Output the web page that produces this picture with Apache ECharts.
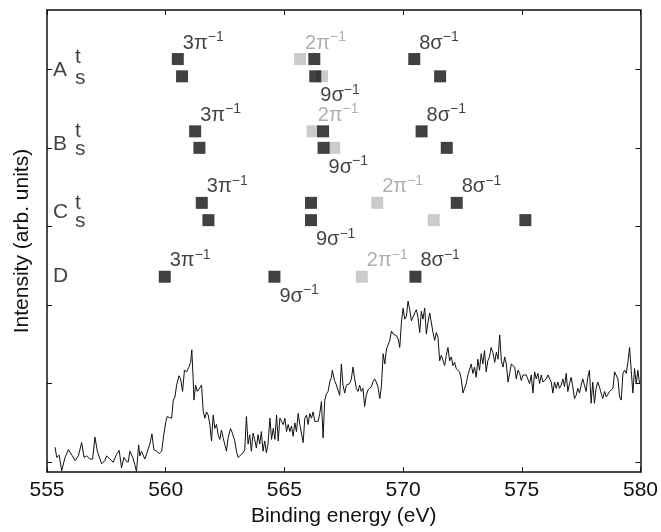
<!DOCTYPE html>
<html><head><meta charset="utf-8">
<script src="https://cdn.jsdelivr.net/npm/echarts@6/dist/echarts.min.js"></script>
<style>html,body{margin:0;padding:0;background:#fff}#c{width:661px;height:532px}</style>
</head><body><div id="c"></div>
<script>
const xTicks = [555, 560, 565, 570, 575, 580];
const yTickValues = [0, 1, 2, 3, 4, 5];

const energy = [
555.34,555.41,555.51,555.62,555.76,555.90,556.07,556.18,556.32,556.46,
556.56,556.67,556.81,556.92,557.02,557.12,557.20,557.30,557.44,557.51,
557.65,557.79,557.93,558.04,558.14,558.24,558.32,558.42,558.49,558.61,
558.70,558.77,558.86,558.91,558.98,559.12,559.19,559.33,559.42,559.50,
559.61,559.73,559.83,559.92,560.01,560.06,560.15,560.25,560.32,560.39,
560.46,560.56,560.63,560.71,560.79,560.88,560.96,561.05,561.10,561.16,
561.19,561.26,561.33,561.41,561.51,561.58,561.65,561.72,561.79,561.86,
561.93,562.00,562.07,562.14,562.21,562.28,562.35,562.42,562.49,562.56,
562.63,562.73,562.81,562.91,562.98,563.05,563.12,563.26,563.33,563.40,
563.47,563.54,563.61,563.68,563.75,563.82,563.89,563.96,564.03,564.10,
564.17,564.24,564.31,564.39,564.46,564.53,564.60,564.67,564.74,564.81,
564.88,564.95,565.02,565.09,565.16,565.23,565.30,565.37,565.44,565.51,
565.58,565.65,565.72,565.79,565.86,565.93,566.00,566.07,566.14,566.21,
566.28,566.35,566.42,566.49,566.56,566.63,566.70,566.77,566.84,566.91,
566.98,567.02,567.11,567.18,
567.33,567.40,567.47,567.54,567.61,567.68,567.75,567.82,567.89,567.96,
568.03,568.10,568.17,568.24,568.31,568.38,568.45,568.52,568.59,568.66,
568.73,568.80,568.87,568.94,569.02,569.09,569.16,569.23,569.30,569.37,
569.44,569.51,569.58,569.65,569.72,569.79,569.86,569.93,570.00,570.07,
570.14,570.21,570.28,570.35,570.42,570.49,570.56,570.63,570.70,570.77,
570.84,570.91,570.98,571.05,571.12,571.19,571.26,571.33,571.40,571.47,
571.54,571.61,571.68,571.75,571.82,571.89,571.96,572.03,572.10,572.17,
572.24,572.31,572.38,572.45,572.52,572.59,572.66,572.73,572.80,572.87,
572.94,573.01,573.08,573.15,573.22,573.29,573.36,573.43,573.50,573.57,
573.64,573.71,573.78,573.86,573.93,574.00,574.07,574.14,574.21,574.28,
574.35,574.42,574.49,574.56,574.63,574.70,574.77,574.84,574.91,574.98,
575.05,575.12,575.19,575.26,575.33,575.40,575.47,575.54,575.61,575.68,
575.75,575.82,575.89,575.96,576.03,576.10,576.17,576.24,576.31,576.38,
576.45,576.52,576.59,576.66,576.73,576.80,576.87,576.94,577.01,577.08,
577.15,577.22,577.29,577.36,577.43,577.50,577.57,577.64,577.71,577.78,
577.85,577.92,577.99,578.06,578.13,578.20,578.27,578.34,578.41,578.49,
578.56,578.63,578.70,578.77,578.84,578.91,578.98,579.05,579.12,579.19,
579.26,579.33,579.40,579.47,579.54,579.61,579.68,579.75,579.82,579.89,
579.96
];

const intensity = [
0.19,0.06,0.09,-0.11,0.06,0.16,0.08,0.02,0.08,0.25,
0.06,0.08,0.04,0.04,0.32,0.14,0.12,-0.02,0.02,0.08,
0.04,0.00,0.10,0.15,-0.07,0.06,0.02,0.00,0.14,0.06,
-0.03,-0.12,0.22,0.08,0.14,0.04,0.10,0.23,0.36,0.16,
0.14,0.11,0.14,0.35,0.52,0.58,0.57,0.56,0.79,0.83,
0.98,1.10,1.06,0.90,1.17,1.15,1.20,1.27,1.43,1.04,
0.79,0.98,0.90,0.92,0.98,0.65,0.56,0.64,0.60,0.48,
0.27,0.60,0.43,0.48,0.35,0.29,0.41,0.31,0.33,0.14,
0.31,0.43,0.37,0.27,0.14,0.06,0.08,0.12,0.16,0.58,
0.23,0.35,0.14,0.37,0.29,0.18,0.35,0.23,0.39,0.14,
0.27,0.12,0.23,0.56,0.29,0.43,0.29,0.60,0.27,0.56,
0.52,0.48,0.56,0.39,0.48,0.39,0.46,0.33,0.50,0.39,
0.62,0.48,0.50,0.25,0.56,0.60,0.48,0.62,0.56,0.64,
0.52,0.50,0.52,0.62,0.77,0.31,0.79,0.87,0.90,1.02,
1.08,1.17,1.04,0.99,
0.85,1.25,0.98,0.88,0.98,0.98,1.00,1.06,1.21,1.06,
0.94,0.90,0.98,0.90,0.94,0.71,0.85,0.92,0.92,0.96,
1.02,1.06,1.02,0.96,0.81,0.98,1.38,1.25,1.44,1.46,
1.55,1.67,1.63,1.61,1.61,1.57,1.46,1.78,1.96,1.82,
1.86,2.05,1.94,1.80,1.78,1.90,1.94,1.84,1.65,1.92,
1.82,1.96,1.63,1.78,1.90,1.92,1.65,1.55,1.65,1.59,
1.29,1.36,1.34,1.23,1.36,1.46,1.29,1.34,1.23,1.27,
1.19,1.21,1.15,1.06,0.88,0.94,1.00,1.11,1.13,1.25,
1.13,1.21,1.08,1.31,1.17,1.38,1.25,1.42,1.15,1.29,
1.34,1.46,1.40,1.27,1.40,1.31,1.62,1.29,1.21,1.34,
1.25,1.02,1.13,1.25,1.25,1.21,1.06,1.17,1.13,1.04,
1.11,1.13,1.11,1.13,1.00,1.11,0.88,1.15,1.06,1.13,
1.00,1.11,1.02,1.00,1.06,1.11,1.13,1.02,0.88,1.02,
0.94,1.02,0.94,0.98,1.06,0.96,1.13,0.90,1.00,1.08,
0.96,0.81,0.85,0.94,0.88,0.98,1.06,0.98,0.90,1.08,
1.17,0.75,1.02,0.75,0.94,1.02,0.96,0.88,0.81,0.90,
0.83,0.85,0.90,0.92,0.94,1.15,1.17,1.06,0.83,0.79,
1.13,1.17,1.13,1.27,1.46,1.17,0.88,1.19,1.00,1.17,
1.00
];

const rowNames = ['A', 'B', 'C', 'D'];
const rowNameLevel = [4.99, 4.05, 3.18, 2.36];
const subNames = ['t', 's', 't', 's', 't', 's'];
const subLevel = [5.15, 4.89, 4.21, 3.98, 3.29, 3.07];

const blackEnergy = [560.51, 566.26, 570.47, 560.69, 566.30, 571.56,
                     561.24, 566.63, 570.78, 561.42, 566.65, 571.84,
                     561.52, 566.12, 572.26, 561.80, 566.12, 575.15,
                     559.96, 564.58, 570.52];
const blackLevel = [5.13, 5.13, 5.13, 4.91, 4.91, 4.91,
                    4.21, 4.21, 4.21, 4.00, 4.00, 4.00,
                    3.30, 3.30, 3.30, 3.08, 3.08, 3.08,
                    2.36, 2.36, 2.36];
const blackTag = ['3π', '', '8σ', '', '9σ', '',
                  '3π', '', '8σ', '', '9σ', '',
                  '3π', '', '8σ', '', '9σ', '',
                  '3π', '9σ', '8σ'];
const grayEnergy = [565.66, 566.58, 566.19, 567.10, 568.91, 571.29, 568.26];
const grayLevel = [5.13, 4.91, 4.21, 4.00, 3.30, 3.08, 2.36];
const grayTag = ['2π', '', '2π', '', '2π', '', '2π'];

const FONT = '"Liberation Sans", Arial, Helvetica, sans-serif';
const INK = '#111111';
const GRAYSQ = '#bcbec0';
const GRAYTXT = '#999b9e';

function tagLabel(tag, color) {
  if (!tag) return { show: false };
  const below = tag === '9σ';
  return {
    show: true,
    formatter: '{m|' + tag + '}{s|\u22121}',
    position: [11, below ? 25.5 : -10],
    align: 'left',
    verticalAlign: 'middle',
    rich: {
      m: { fontSize: 20, color: color, fontFamily: FONT, lineHeight: 26 },
      s: { fontSize: 14, color: color, fontFamily: FONT, lineHeight: 12, verticalAlign: 'top' }
    }
  };
}

const blackData = blackEnergy.map((e, i) => ({ value: [e, blackLevel[i]], label: tagLabel(blackTag[i], INK) }));
const grayData = grayEnergy.map((e, i) => ({ value: [e, grayLevel[i]], label: tagLabel(grayTag[i], GRAYTXT) }));
const rowData = rowNames.map((n, i) => ({ value: [555.25, rowNameLevel[i]], name: n }));
const subData = subNames.map((n, i) => ({ value: [556.18, subLevel[i]], name: n }));

const chart = echarts.init(document.getElementById('c'), null, { renderer: 'canvas' });

function xAx(pos, showLabel) {
  return {
    type: 'value', min: xTicks[0], max: xTicks[xTicks.length - 1], interval: 5, position: pos,
    axisLine: { show: true, onZero: false, lineStyle: { color: INK, width: 1.5 } },
    axisTick: { show: true, inside: true, length: 5, lineStyle: { color: INK, width: 1 } },
    axisLabel: { show: showLabel, color: INK, fontSize: 21, fontFamily: FONT, margin: 8 },
    splitLine: { show: false }
  };
}
function yAx(pos) {
  return {
    type: 'value', min: -0.126, max: 5.754, position: pos,
    axisLine: { show: true, onZero: false, lineStyle: { color: INK, width: 1.5 } },
    axisTick: { show: true, inside: true, length: 5, customValues: yTickValues, lineStyle: { color: INK, width: 1 } },
    axisLabel: { show: false },
    splitLine: { show: false }
  };
}

const xa0 = xAx('bottom', true);
xa0.name = 'Binding energy (eV)';
xa0.nameLocation = 'middle';
xa0.nameGap = 32;
xa0.nameTextStyle = { color: INK, fontSize: 21, fontFamily: FONT };
const ya0 = yAx('left');
ya0.name = 'Intensity (arb. units)';
ya0.nameLocation = 'middle';
ya0.nameGap = 14;
ya0.nameTextStyle = { color: INK, fontSize: 21, fontFamily: FONT };

chart.setOption({
  animation: false,
  backgroundColor: '#ffffff',
  grid: { left: 47, right: 20, top: 10, bottom: 54, containLabel: false },
  xAxis: [xa0, xAx('top', false)],
  yAxis: [ya0, yAx('right')],
  series: [
    {
      type: 'line', xAxisIndex: 0, yAxisIndex: 0,
      data: energy.map((e, i) => [e, intensity[i]]),
      showSymbol: false, symbol: 'none',
      lineStyle: { color: INK, width: 1 }
    },
    {
      type: 'scatter', symbol: 'rect', symbolSize: 12,
      itemStyle: { color: GRAYSQ }, data: grayData, z: 3
    },
    {
      type: 'scatter', symbol: 'rect', symbolSize: 12,
      itemStyle: { color: INK }, data: blackData, z: 4
    },
    {
      type: 'scatter', symbolSize: 0.1, itemStyle: { color: 'transparent' }, data: rowData,
      label: { show: true, formatter: p => p.name, position: [0, 0], align: 'left', verticalAlign: 'middle',
               color: INK, fontSize: 21, fontFamily: FONT }
    },
    {
      type: 'scatter', symbolSize: 0.1, itemStyle: { color: 'transparent' }, data: subData,
      label: { show: true, formatter: p => p.name, position: [0, 0], align: 'left', verticalAlign: 'middle',
               color: INK, fontSize: 21, fontFamily: FONT }
    }
  ]
});
</script>
</body></html>
